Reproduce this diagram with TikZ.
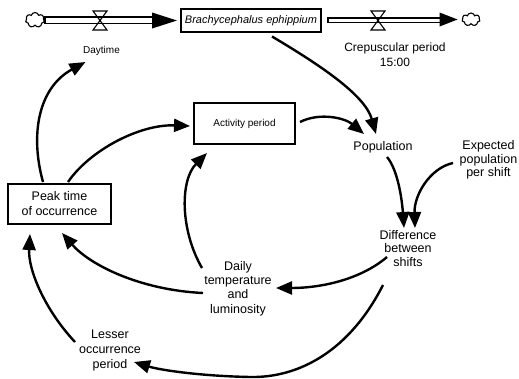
\documentclass[tikz,border=0pt]{standalone}
\usepackage{fontspec}
\setmainfont{Liberation Sans}
\usetikzlibrary{arrows.meta,shapes.symbols,calc}
\begin{document}
\begin{tikzpicture}[x=1pt,y=-1pt,
 lbl/.style={font=\fontsize{12.5}{14.3}\selectfont, align=center, inner sep=0pt},
 small/.style={font=\fontsize{10}{12}\selectfont, inner sep=0pt},
 box/.style={draw, line width=2.4pt, inner sep=0pt, align=center},
 arr/.style={line width=2.4pt, -{Triangle[length=16pt,width=13pt]}},
 pipebody/.style={line width=1.6pt},
 valve/.style={line width=1.1pt},
 cloudy/.style={cloud, cloud puffs=7, draw, line width=1.1pt, inner sep=0pt, minimum width=19pt, minimum height=15pt, aspect=1.3}
]
\useasboundingbox (0,0) rectangle (519,378);

% stock and flows
\node[box, minimum width=139.6pt, minimum height=22.6pt, font=\fontsize{11}{13}\selectfont\itshape] (stock) at (251,20.5) {Brachycephalus ephippium};
\node[cloudy] (cloudL) at (35,20) {};
\node[cloudy, minimum width=18pt, minimum height=13pt] (cloudR) at (471,19.5) {};
\coordinate (valveL) at (100,20.5);
\coordinate (valveR) at (378,20.5);

\draw[pipebody] ($(cloudL.east)+(0,-2.8)$) rectangle ($(stock.west)+(-27,2.8)$);
\fill ($(stock.west)+(-28,-8)$) -- ($(stock.west)+(-3,0)$) -- ($(stock.west)+(-28,8)$) -- cycle;
\draw[pipebody] ($(stock.east)+(6,-2.8)$) rectangle ($(cloudR.west)+(-21,2.8)$);
\fill ($(cloudR.west)+(-22,-7)$) -- ($(cloudR.west)+(-4,0)$) -- ($(cloudR.west)+(-22,7)$) -- cycle;

\draw[valve] ($(valveL)+(-7,-9.5)$) -- ($(valveL)+(7,-9.5)$) -- ($(valveL)+(-7,9.5)$) -- ($(valveL)+(7,9.5)$) -- cycle;
\draw[valve] ($(valveR)+(-7,-9.5)$) -- ($(valveR)+(7,-9.5)$) -- ($(valveR)+(-7,9.5)$) -- ($(valveR)+(7,9.5)$) -- cycle;

\node[small] (daytime) at (101.5,51) {Daytime};
\node[lbl, font=\fontsize{12}{15}\selectfont] (crep) at (395,54.5) {Crepuscular period\\15:00};

% other nodes
\node[box, minimum width=100.6pt, minimum height=40.6pt, font=\fontsize{10}{12}\selectfont] (act) at (244.5,123.5) {Activity period};
\node[box, minimum width=102.6pt, minimum height=39.6pt, font=\fontsize{12.5}{15}\selectfont] (peak) at (59.5,204) {Peak time\\of occurrence};
\node[lbl] (pop) at (383,147) {Population};
\node[lbl, font=\fontsize{12.5}{13.5}\selectfont] (exp) at (488.5,160) {Expected\\population\\per shift};
\node[lbl, font=\fontsize{12.5}{13.5}\selectfont] (diff) at (408,248.5) {Difference\\between\\shifts};
\node[lbl] (daily) at (238,288.5) {Daily\\temperature\\and\\luminosity};
\node[lbl, font=\fontsize{12.5}{15}\selectfont] (lesser) at (110,350) {Lesser\\occurrence\\period};

% connectors
\draw[arr] ($(peak.north)+(-16.5,-1)$) .. controls (30,135) and (38,88) .. ($(daytime.center)+(-16,11)$);
\draw[arr] ($(peak.north)+(8.5,-1)$) .. controls (90,150) and (140,124) .. ($(act.west)+(-3,2.5)$);
\draw[arr] ($(daily.center)+(-36,-20.5)$) .. controls (180,230) and (180,180) .. ($(act.south)+(-37.5,8)$);
\draw[arr] ($(act.east)+(4,-1.5)$) .. controls (320,112) and (345,118) .. ($(pop.center)+(-19,-13)$);
\draw[arr] ($(stock.south)+(21,3.5)$) .. controls (320,65) and (365,95) .. ($(pop.center)+(-7,-13)$);
\draw[arr] ($(pop.center)+(4,10)$) .. controls (398,170) and (402,200) .. ($(diff.center)+(-4,-20.5)$);
\draw[arr] ($(exp.center)+(-35.5,3)$) .. controls (430,168) and (414,195) .. ($(diff.center)+(7,-20.5)$);
\draw[arr] ($(diff.center)+(-21,8.5)$) .. controls (360,280) and (320,288) .. ($(daily.center)+(38,-0.5)$);
\draw[arr] ($(daily.center)+(-35,4.5)$) .. controls (140,290) and (90,265) .. ($(peak.south)+(2.5,8)$);
\draw[arr] ($(diff.center)+(-25,36.5)$) .. controls (350,350) and (300,378) .. (250,377) .. controls (200,376) and (160,370) .. ($(lesser.center)+(24,12)$);
\draw[arr] ($(lesser.center)+(-35,-8)$) .. controls (45,310) and (28,270) .. ($(peak.south)+(-29.5,9)$);
\end{tikzpicture}
\end{document}
